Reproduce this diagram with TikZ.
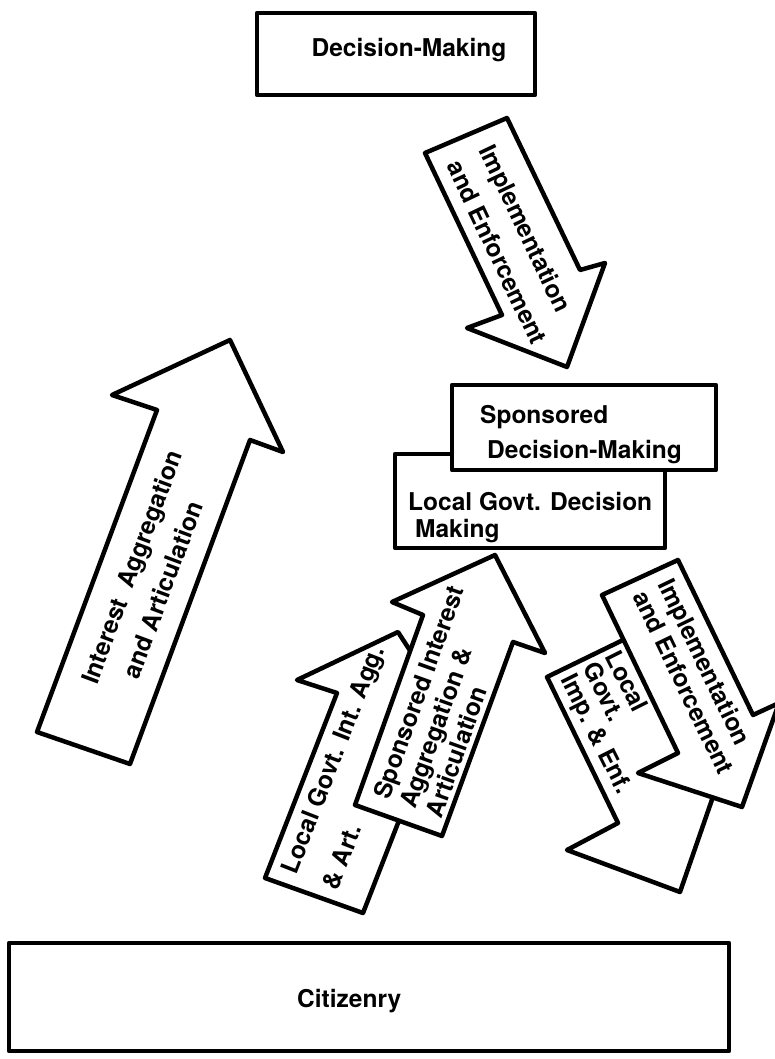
\documentclass[tikz,border=0pt]{standalone}
\usepackage{fontspec}
\setmainfont{TeX Gyre Heros}
\begin{document}
\begin{tikzpicture}[x=1pt,y=-1pt]
\tikzset{
  outline/.style={draw=black, line width=4.5pt, line join=round, fill=white},
  boxnode/.style={outline, inner sep=0pt},
  lbl/.style={inner sep=0pt, font=\bfseries\fontsize{24.5}{#1}\selectfont, align=left},
}
\useasboundingbox (0,0) rectangle (775,1059);
\fill[white] (0,0) rectangle (775,1059);

% Arrow 1: Interest Aggregation and Articulation
\draw[outline] (230,340) -- (283,452) -- (250,440) -- (130,764) -- (37,732) -- (157,410) -- (112,395) -- cycle;
\node[lbl=37, rotate=69.6, anchor=west] (a1) at (106,689) {Interest\ \ Aggregation\\\hspace*{19pt}and Articulation};

% Arrow 2: Implementation and Enforcement (top)
\draw[outline] (425,153) -- (507,118) -- (580,270) -- (605,263) -- (567,367) -- (467,328) -- (502,315) -- cycle;
\node[lbl=36, rotate=-64.6, anchor=west] (a2) at (470.5,154) {Implementation\\and Enforcement};

% Arrow 4: Local Govt. Int. Agg. & Art. (behind arrow 3)
\draw[outline] (398,632) -- (468,740) -- (435,728) -- (363,913) -- (265,878) -- (337,693) -- (297,680) -- cycle;
\node[lbl=44, rotate=68.7, anchor=west] (a4) at (309,880) {Local Govt. Int. Agg.\\\& Art.};

% Arrow 3: Sponsored Interest Aggregation & Articulation
\draw[outline] (495,555) -- (545,653) -- (513,642) -- (442,836) -- (355,805) -- (423,615) -- (392,602) -- cycle;
\node[lbl=28, rotate=70.3, anchor=west] (a3) at (407,807) {Sponsored Interest\\Aggregation \&\\Articulation};

% Arrow 6: Local Govt. Imp. & Enf. (behind arrow 5)
\draw[outline] (547,677) -- (660,622) -- (725,762) -- (680,892) -- (567,850) -- (618,823) -- cycle;
\node[lbl=25, rotate=-63.4, anchor=west] (a6) at (588,665) {Local\\Govt.\\Imp. \& Enf.};

% Arrow 5: Implementation and Enforcement (lower right)
\draw[outline] (602,595) -- (678,560) -- (753,715) -- (779,703) -- (742,807) -- (638,773) -- (678,753) -- cycle;
\node[lbl=28, rotate=-64.3, anchor=west] (a5) at (653,586) {Implementation\\and Enforcement};

% Boxes
\node[boxnode, minimum width=270pt, minimum height=94pt] (lgb) at (530,501) {};
\node[lbl=27, anchor=north west] (lgt) at (408,492) {Local Govt. Decision\\\hspace*{7pt}Making};

\node[boxnode, minimum width=264pt, minimum height=85pt] (spb) at (584,427.5) {};
\node[lbl=35, anchor=north west] (spt) at (480,405.5) {Sponsored\\\hspace*{7pt}Decision-Making};

\node[boxnode, minimum width=278pt, minimum height=82pt] (dm) at (396,54) {};
\node[lbl=28, anchor=base] (dmt) at (409,57) {Decision-Making};

\node[boxnode, minimum width=720pt, minimum height=108pt] (cit) at (369,997) {};
\node[lbl=28, anchor=base west] (citt) at (297,1007) {Citizenry};
\end{tikzpicture}
\end{document}
